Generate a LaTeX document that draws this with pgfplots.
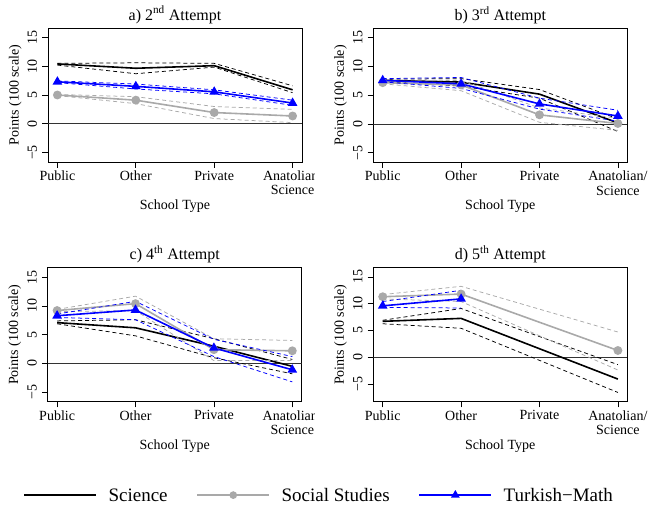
\documentclass[border=0pt]{standalone}
\usepackage{fontspec}
\setmainfont{Liberation Serif}
\usepackage{pgfplots}
\pgfplotsset{compat=1.18}
\definecolor{ssgray}{RGB}{169,169,169}
\definecolor{tmblue}{RGB}{0,0,255}
\newcommand\fs{\fontsize{14bp}{14.3bp}\selectfont}
\newcommand\ft{\fontsize{16bp}{17bp}\selectfont}
\newcommand\fl{\fontsize{19bp}{20bp}\selectfont}
\pgfplotsset{
  panel/.style={
    scale only axis, width=254bp, height=134bp,
    xmin=0.88, xmax=4.12, ymin=-6.65, ymax=16.65,
    xtick={1,2,3,4}, ytick={-5,0,5,10,15},
    yticklabels={−5,0,5,10,15},
    tick align=outside, xtick pos=bottom, ytick pos=left,
    major tick length=5.7bp,
    tick style={black, line width=0.75bp},
    axis line style={black, line width=0.8bp},
    font=\fs,
    xticklabel style={anchor=north, inner sep=0pt, align=center, font=\fs},
    xticklabel shift=2.9bp,
    yticklabel style={rotate=90, anchor=south, inner sep=0pt, font=\fs},
    yticklabel shift=5bp,
    title style={at={(axis description cs:0.5,1)}, anchor=base, yshift=2bp, font=\ft, inner sep=0pt},
    xlabel={School Type}, ylabel={Points (100 scale)},
    xlabel style={at={(axis description cs:0.5,0)}, anchor=base, yshift=-47.4bp, inner sep=0pt, font=\fs},
    ylabel style={at={(axis description cs:-0.116,0.5)}, anchor=base, inner sep=0pt, font=\fs},
  },
  zero/.style={black!80, line width=0.8bp, no marks, forget plot},
  sci/.style={black, line width=1.6bp, no marks, forget plot},
  scid/.style={black, line width=0.75bp, dash pattern=on 4bp off 3bp, no marks, forget plot},
  ss/.style={ssgray, line width=1.6bp, mark=*, mark size=3.6bp, mark options={solid, fill=ssgray, draw=ssgray}, forget plot},
  ssd/.style={ssgray, line width=0.75bp, dash pattern=on 4bp off 3bp, no marks, forget plot},
  tm/.style={tmblue, line width=1.6bp, mark=triangle*, mark size=4bp, mark options={solid, fill=tmblue, draw=tmblue}, forget plot},
  tmd/.style={tmblue, line width=0.75bp, dash pattern=on 4bp off 3bp, no marks, forget plot},
}
\begin{document}
\begin{tikzpicture}
\useasboundingbox (0bp,0bp) rectangle (650bp,-505bp);
% ---------------- a) 2nd attempt
\begin{scope}
\clip (0bp,0bp) rectangle (314.5bp,-228bp);
\begin{axis}[panel, at={(48bp,-162bp)}, anchor=south west,
  title={a) 2\textsuperscript{nd} Attempt},
  xticklabels={Public,Other,Private,{Anatolian/\\Science}}]
\addplot[zero] coordinates {(0.88,0) (4.12,0)};
\addplot[sci]  coordinates {(1,10.4) (2,9.65) (3,10.1) (4,5.9)};
\addplot[scid] coordinates {(1,10.5) (2,10.6) (3,10.5) (4,6.6)};
\addplot[scid] coordinates {(1,10.2) (2,8.7) (3,9.85) (4,5.4)};
\addplot[ss]   coordinates {(1,5.0) (2,4.1) (3,1.95) (4,1.35)};
\addplot[ssd]  coordinates {(1,5.1) (2,4.7) (3,3.0) (4,2.5)};
\addplot[ssd]  coordinates {(1,4.9) (2,3.5) (3,0.9) (4,0.2)};
\addplot[tm]   coordinates {(1,7.3) (2,6.5) (3,5.55) (4,3.6)};
\addplot[tmd]  coordinates {(1,7.45) (2,6.9) (3,5.9) (4,4.1)};
\addplot[tmd]  coordinates {(1,7.15) (2,6.05) (3,5.2) (4,3.2)};
\end{axis}
\end{scope}
% ---------------- b) 3rd attempt
\begin{axis}[panel, at={(373.3bp,-162.3bp)}, anchor=south west,
  title={b) 3\textsuperscript{rd} Attempt},
  xticklabels={Public,Other,Private,{Anatolian/\\Science}}]
\addplot[zero] coordinates {(0.88,0) (4.12,0)};
\addplot[sci]  coordinates {(1,7.6) (2,7.3) (3,5.2) (4,0.2)};
\addplot[scid] coordinates {(1,7.8) (2,7.9) (3,6.0) (4,0.9)};
\addplot[scid] coordinates {(1,7.4) (2,6.6) (3,4.5) (4,-1.3)};
\addplot[ss]   coordinates {(1,7.2) (2,6.8) (3,1.6) (4,0.1)};
\addplot[ssd]  coordinates {(1,7.4) (2,7.6) (3,2.8) (4,1.0)};
\addplot[ssd]  coordinates {(1,7.0) (2,5.8) (3,0.3) (4,-1.1)};
\addplot[tm]   coordinates {(1,7.6) (2,7.0) (3,3.5) (4,1.4)};
\addplot[tmd]  coordinates {(1,7.9) (2,8.1) (3,4.5) (4,2.4)};
\addplot[tmd]  coordinates {(1,7.35) (2,6.2) (3,2.6) (4,0.5)};
\end{axis}
% ---------------- c) 4th attempt
\begin{scope}
\clip (0bp,-228bp) rectangle (314.5bp,-468bp);
\begin{axis}[panel, at={(47.7bp,-401.7bp)}, anchor=south west,
  title={c) 4\textsuperscript{th} Attempt},
  xticklabels={Public,Other,Private,{Anatolian/\\Science}}]
\addplot[zero] coordinates {(0.88,0) (4.12,0)};
\addplot[sci]  coordinates {(1,7.1) (2,6.2) (3,3.0) (4,-0.5)};
\addplot[scid] coordinates {(1,7.4) (2,7.6) (3,4.3) (4,0.7)};
\addplot[scid] coordinates {(1,6.9) (2,4.8) (3,1.0) (4,-1.8)};
\addplot[ss]   coordinates {(1,9.2) (2,10.4) (3,2.4) (4,2.2)};
\addplot[ssd]  coordinates {(1,9.4) (2,11.7) (3,4.3) (4,4.0)};
\addplot[ssd]  coordinates {(1,9.0) (2,9.2) (3,0.5) (4,0.5)};
\addplot[tm]   coordinates {(1,8.3) (2,9.3) (3,2.7) (4,-1.1)};
\addplot[tmd]  coordinates {(1,8.6) (2,10.8) (3,4.2) (4,1.2)};
\addplot[tmd]  coordinates {(1,8.0) (2,7.6) (3,1.2) (4,-3.2)};
\end{axis}
\end{scope}
% ---------------- d) 5th attempt
\begin{axis}[panel, at={(373.3bp,-401.7bp)}, anchor=south west,
  ymin=-8.33, ymax=16.73,
  title={d) 5\textsuperscript{th} Attempt},
  xticklabels={Public,Other,Private,{Anatolian/\\Science}},
  legend columns=3,
  legend cell align=left,
  legend image code/.code={\draw[mark repeat=2,mark phase=2,#1] plot coordinates {(0bp,0bp) (36bp,0bp) (72bp,0bp)};},
  legend style={at={(axis description cs:-1.378,-0.697)}, anchor=west,
    draw=none, fill=none, inner sep=0pt, font=\fl, nodes={inner sep=0pt, text depth=0pt},
    /tikz/every odd column/.append style={column sep=11.5bp},
    /tikz/every even column/.append style={column sep=28.8bp}}]
\addplot[zero] coordinates {(0.88,0) (4.12,0)};
\addplot[sci]  coordinates {(1,6.7) (2,7.25) (4,-4.1)};
\addplot[scid] coordinates {(1,6.9) (2,9.1) (4,-1.4)};
\addplot[scid] coordinates {(1,6.25) (2,5.4) (4,-6.6)};
\addplot[ss]   coordinates {(1,11.3) (2,11.8) (4,1.25)};
\addplot[ssd]  coordinates {(1,11.7) (2,13.25) (4,4.7)};
\addplot[ssd]  coordinates {(1,10.9) (2,10.4) (4,-2.4)};
\addplot[tm]   coordinates {(1,9.6) (2,10.9)};
\addplot[tmd]  coordinates {(1,10.4) (2,12.5)};
\addplot[tmd]  coordinates {(1,9.3) (2,9.2)};
\addlegendimage{black, line width=1.6bp}
\addlegendentry{Science}
\addlegendimage{ssgray, line width=1.6bp, mark=*, mark size=3bp, mark options={fill=ssgray, draw=ssgray}}
\addlegendentry{Social Studies}
\addlegendimage{tmblue, line width=1.6bp, mark=triangle*, mark size=3.5bp, mark options={fill=tmblue, draw=tmblue}}
\addlegendentry{Turkish−Math}
\end{axis}
\end{tikzpicture}
\end{document}
